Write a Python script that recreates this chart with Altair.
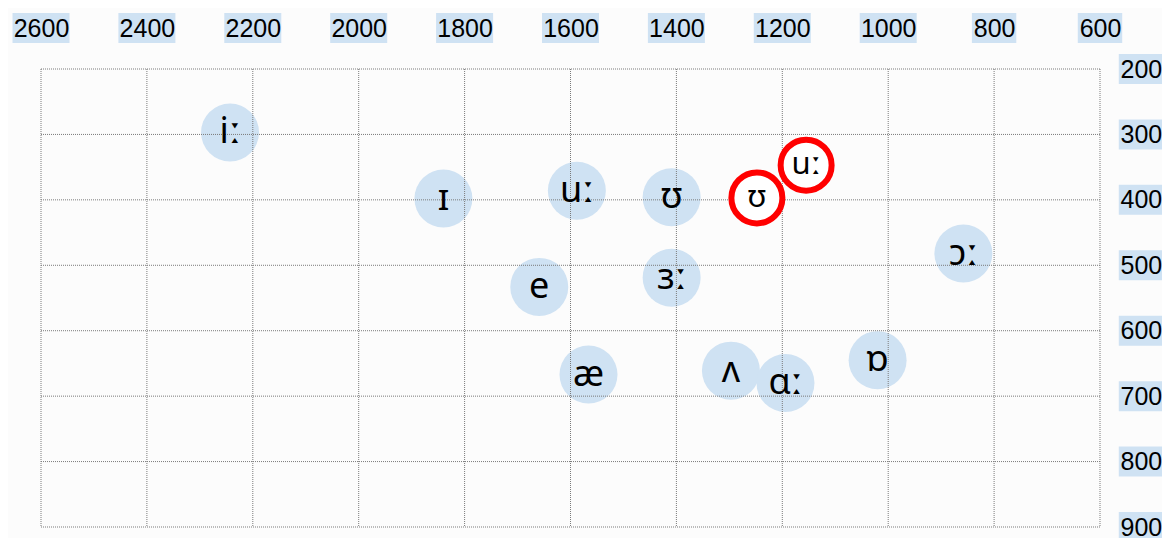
import altair as alt
import pandas as pd

# Vowel chart: F2 (Hz, horizontal, reversed) vs F1 (Hz, vertical, reversed)
vowels = ["iː", "ɪ", "uː", "ʊ", "e", "ɜː", "æ", "ʌ", "ɑː", "ɒ", "ɔː"]
f2 = [2243, 1840, 1588, 1409, 1659, 1409, 1566, 1297, 1194, 1020, 858]
f1 = [297, 398, 386, 396, 533, 519, 667, 661, 680, 645, 482]

red_vowels = ["ʊ", "uː"]
red_f2 = [1248, 1155]
red_f1 = [397, 347]

x_ticks = [2600, 2400, 2200, 2000, 1800, 1600, 1400, 1200, 1000, 800, 600]
y_ticks = [200, 300, 400, 500, 600, 700, 800, 900]

W, H = 1059, 458
BLUE = "#cfe2f3"
GRID = "#7a7a7a"


def box_path(label):
    hw = 0.95 if len(str(label)) >= 4 else 0.74
    return f"M{-hw},-0.5L{hw},-0.5L{hw},0.5L{-hw},0.5Z"


main_df = pd.DataFrame({"vowel": vowels, "F2": f2, "F1": f1})
red_df = pd.DataFrame({"vowel": red_vowels, "F2": red_f2, "F1": red_f1})
xt_df = pd.DataFrame({"F2": x_ticks, "shape": [box_path(v) for v in x_ticks]})
yt_df = pd.DataFrame({"F1": y_ticks, "shape": [box_path(v) for v in y_ticks]})

xscale = alt.Scale(domain=[600, 2600], reverse=True, nice=False, zero=False)
yscale = alt.Scale(domain=[200, 900], reverse=True, nice=False, zero=False)

x_axis = alt.Axis(
    orient="top", values=x_ticks, format="d", title=None, grid=False,
    ticks=False, tickSize=0, domain=False, labelPadding=41,
    labelBaseline="middle", labelFlush=False, labelOverlap=False,
    labelFont="Liberation Sans", labelFontSize=25, labelColor="#000000",
    zindex=1,
)
y_axis = alt.Axis(
    orient="right", values=y_ticks, format="d", title=None, grid=False,
    ticks=False, tickSize=0, domain=False, labelPadding=20,
    labelAlign="left", labelBaseline="middle", labelFlush=False,
    labelOverlap=False, labelFont="Liberation Sans", labelFontSize=25,
    labelColor="#000000", zindex=1,
)

X = alt.X("F2:Q", scale=xscale, axis=x_axis)
Y = alt.Y("F1:Q", scale=yscale, axis=y_axis)

blue = alt.Chart(main_df).mark_circle(size=3364, color=BLUE, opacity=1).encode(
    x=X, y=Y
)

vgrid = alt.Chart(pd.DataFrame({"F2": x_ticks})).mark_rule(
    color=GRID, strokeDash=[1, 1], strokeWidth=1
).encode(x=alt.X("F2:Q", scale=xscale, axis=x_axis))

hgrid = alt.Chart(pd.DataFrame({"F1": y_ticks})).mark_rule(
    color=GRID, strokeDash=[1, 1], strokeWidth=1
).encode(y=alt.Y("F1:Q", scale=yscale, axis=y_axis))

red = alt.Chart(red_df).mark_point(
    shape="circle", size=2601, stroke="#ff0000", strokeWidth=6,
    fill="#ffffff", fillOpacity=1, filled=False, opacity=1,
).encode(x=X, y=Y)

blue_text = alt.Chart(main_df).mark_text(
    font="Noto Sans", fontSize=36, color="#000000", baseline="middle",
    align="center",
).encode(x=X, y=Y, text="vowel:N")

red_text = alt.Chart(red_df).mark_text(
    font="Noto Sans", fontSize=31, color="#000000", baseline="middle",
    align="center",
).encode(x=X, y=Y, text="vowel:N")

xboxes = alt.Chart(xt_df).mark_point(
    filled=True, color=BLUE, size=3600, opacity=1
).encode(
    x=alt.X("F2:Q", scale=xscale, axis=x_axis),
    y=alt.value(-41),
    shape=alt.Shape("shape:N", scale=None, legend=None),
)

yboxes = alt.Chart(yt_df).mark_point(
    filled=True, color=BLUE, size=3600, opacity=1
).encode(
    x=alt.value(W + 41),
    y=alt.Y("F1:Q", scale=yscale, axis=y_axis),
    shape=alt.Shape("shape:N", scale=None, legend=None),
)

chart = alt.layer(
    blue, vgrid, hgrid, red, blue_text, red_text, xboxes, yboxes
).properties(
    width=W, height=H,
    autosize=alt.AutoSizeParams(type="none"),
    padding={"left": 33, "top": 61, "right": 62, "bottom": 11},
    background="#fcfcfc",
).configure_view(stroke=None)

chart.save("out.html", embed_options={"renderer": "svg", "actions": False})
